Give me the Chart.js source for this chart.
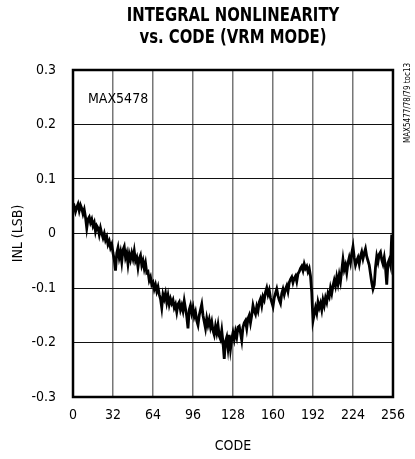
<!DOCTYPE html>
<html>
<head>
<meta charset="utf-8">
<script src="https://cdn.jsdelivr.net/npm/chart.js@4/dist/chart.umd.min.js"></script>
<style>
html,body{margin:0;padding:0;background:#fff;}
#wrap{width:415px;height:459px;position:relative;}
</style>
</head>
<body>
<div id="wrap"><canvas id="c" width="415" height="459"></canvas></div>
<script>
const titleLines = ["INTEGRAL NONLINEARITY", "vs. CODE (VRM MODE)"];
const xTitle = "CODE";
const yTitle = "INL (LSB)";
const deviceLabel = "MAX5478";
const sideNote = "MAX5477/78/79 toc13";
const xTicks = [0, 32, 64, 96, 128, 160, 192, 224, 256];
const yTicks = [-0.3, -0.2, -0.1, 0, 0.1, 0.2, 0.3];
const codes = Array.from({length: 256}, (_, i) => i);
const inl = [
  0.046, 0.050, 0.040, 0.048, 0.054, 0.042, 0.052, 0.046, 0.036, 0.044, 0.030, 0.010, 0.026, 0.030, 0.020, 0.026,
  0.014, 0.020, 0.004, 0.014, 0.010, -0.002, 0.010, 0.000, -0.008, 0.000, -0.012, -0.006, -0.020, -0.014, -0.026, -0.020,
  -0.036, -0.048, -0.068, -0.036, -0.026, -0.044, -0.034, -0.052, -0.030, -0.024, -0.044, -0.036, -0.056, -0.038, -0.048, -0.036,
  -0.046, -0.032, -0.050, -0.044, -0.062, -0.046, -0.040, -0.058, -0.050, -0.064, -0.054, -0.072, -0.070, -0.086, -0.080, -0.094,
  -0.090, -0.102, -0.094, -0.106, -0.098, -0.112, -0.120, -0.136, -0.112, -0.120, -0.110, -0.126, -0.114, -0.130, -0.120, -0.128,
  -0.122, -0.136, -0.130, -0.144, -0.130, -0.126, -0.140, -0.132, -0.142, -0.124, -0.138, -0.152, -0.174, -0.140, -0.132, -0.146,
  -0.136, -0.152, -0.144, -0.160, -0.168, -0.150, -0.140, -0.130, -0.150, -0.162, -0.174, -0.156, -0.168, -0.158, -0.172, -0.162,
  -0.178, -0.186, -0.170, -0.182, -0.168, -0.188, -0.194, -0.178, -0.200, -0.230, -0.198, -0.190, -0.210, -0.186, -0.212, -0.194,
  -0.182, -0.194, -0.180, -0.190, -0.172, -0.170, -0.182, -0.196, -0.172, -0.164, -0.160, -0.174, -0.156, -0.150, -0.164, -0.150,
  -0.132, -0.142, -0.148, -0.134, -0.142, -0.126, -0.120, -0.132, -0.116, -0.122, -0.108, -0.100, -0.112, -0.104, -0.118, -0.126,
  -0.134, -0.118, -0.110, -0.102, -0.114, -0.122, -0.128, -0.110, -0.102, -0.112, -0.102, -0.096, -0.106, -0.090, -0.084, -0.080,
  -0.090, -0.082, -0.078, -0.088, -0.074, -0.070, -0.064, -0.060, -0.068, -0.056, -0.064, -0.060, -0.070, -0.064, -0.078, -0.108,
  -0.160, -0.148, -0.136, -0.146, -0.126, -0.136, -0.128, -0.140, -0.122, -0.132, -0.118, -0.126, -0.110, -0.116, -0.100, -0.110,
  -0.096, -0.086, -0.096, -0.080, -0.092, -0.076, -0.088, -0.068, -0.048, -0.066, -0.058, -0.072, -0.054, -0.044, -0.054, -0.036,
  -0.024, -0.044, -0.058, -0.050, -0.044, -0.056, -0.042, -0.034, -0.046, -0.036, -0.028, -0.042, -0.050, -0.058, -0.074, -0.090,
  -0.102, -0.094, -0.062, -0.042, -0.052, -0.038, -0.034, -0.048, -0.056, -0.044, -0.062, -0.094, -0.054, -0.048, -0.058, -0.002
];

const FONT = '"DejaVu Sans Condensed", "Liberation Sans Narrow", sans-serif';

const textPlugin = {
  id: 'texts',
  afterDraw(chart) {
    const ctx = chart.ctx;
    const a = chart.chartArea;
    ctx.save();
    ctx.strokeStyle = '#000';
    ctx.lineWidth = 2.5;
    ctx.strokeRect(a.left, a.top, a.right - a.left, a.bottom - a.top);
    const cx = (a.left + a.right) / 2;
    ctx.fillStyle = '#000';
    ctx.textBaseline = 'middle';
    ctx.textAlign = 'center';
    ctx.save();
    ctx.translate(cx, 0);
    ctx.scale(0.87, 1);
    ctx.font = 'bold 19px ' + FONT;
    ctx.fillText(titleLines[0], 0, 16);
    ctx.fillText(titleLines[1], 0, 38);
    ctx.restore();
    ctx.font = '14px ' + FONT;
    ctx.fillText(xTitle, cx, 446);
    ctx.textAlign = 'left';
    ctx.fillText(deviceLabel, a.left + 15, 99);
    ctx.save();
    ctx.translate(18, (a.top + a.bottom) / 2);
    ctx.rotate(-Math.PI / 2);
    ctx.textAlign = 'center';
    ctx.fillText(yTitle, 0, 0);
    ctx.restore();
    ctx.save();
    ctx.translate(408, 103);
    ctx.rotate(-Math.PI / 2);
    ctx.textAlign = 'center';
    ctx.font = '8px ' + FONT;
    ctx.fillText(sideNote, 0, 0);
    ctx.restore();
    ctx.restore();
  }
};

new Chart(document.getElementById('c'), {
  type: 'line',
  data: {
    datasets: [{
      data: codes.map((c, i) => ({x: c, y: inl[i]})),
      borderColor: '#000',
      borderWidth: 2.8,
      pointRadius: 0,
      tension: 0,
      fill: false
    }]
  },
  options: {
    responsive: false,
    animation: false,
    devicePixelRatio: 1,
    layout: {padding: {top: 70, right: 14, left: 0, bottom: 0}},
    plugins: {legend: {display: false}, tooltip: {enabled: false}, title: {display: false}},
    scales: {
      x: {
        type: 'linear', min: 0, max: 256,
        afterBuildTicks(s) { s.ticks = xTicks.map(v => ({value: v})); },
        afterFit(s) { s.height = 62; },
        ticks: {color: '#000', font: {family: FONT, size: 14}, padding: 10, maxRotation: 0, autoSkip: false,
          callback: v => String(v)},
        grid: {color: '#777', lineWidth: 1.5, drawTicks: false},
        border: {display: false}
      },
      y: {
        type: 'linear', min: -0.3, max: 0.3,
        afterBuildTicks(s) { s.ticks = yTicks.map(v => ({value: v})); },
        afterFit(s) { s.width = 73; },
        ticks: {color: '#000', font: {family: FONT, size: 14}, padding: 17, autoSkip: false,
          callback: v => (Math.abs(v) < 1e-9 ? '0' : (Math.round(v * 10) / 10).toFixed(1))},
        grid: {color: '#111', lineWidth: 1, drawTicks: false},
        border: {display: false}
      }
    }
  },
  plugins: [textPlugin]
});
</script>
</body>
</html>
